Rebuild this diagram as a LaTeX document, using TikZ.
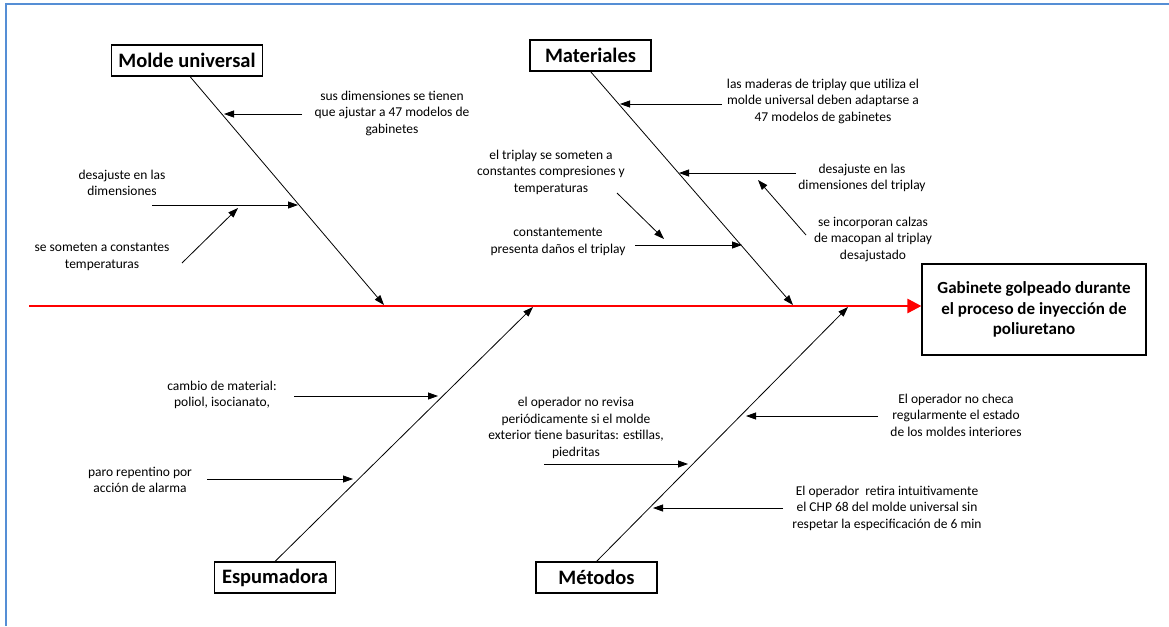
\documentclass[tikz,border=0pt]{standalone}
\usepackage{fontspec}
\setmainfont{Carlito}
\usepackage{xcolor}
\usepackage{tikz}
\usetikzlibrary{arrows.meta,positioning}
\definecolor{frameblue}{RGB}{85,142,213}
\tikzset{
  catbox/.style    = {draw, line width=1.1pt, font=\fontsize{20.5}{24}\selectfont\bfseries,
                      minimum width=121pt, minimum height=31pt, inner xsep=7pt},
  effbox/.style    = {draw, line width=1.1pt, font=\fontsize{17}{20.5}\selectfont\bfseries,
                      align=center, minimum width=224pt, minimum height=91pt},
  causetext/.style = {font=\fontsize{13.5}{16.5}\selectfont, align=center, inner sep=0pt},
  bone/.style      = {-{Triangle[length=10pt,width=7pt]}, line width=0.8pt},
  twig/.style      = {-{Triangle[length=10pt,width=7pt]}, line width=0.8pt},
  spine/.style     = {-{Triangle[length=14pt,width=14pt]}, line width=2.6pt, red},
  frameline/.style = {line width=2.4pt, frameblue},
}

\begin{document}
\begin{tikzpicture}[x=1pt,y=-1pt]
\useasboundingbox (0,0) rectangle (1169,626);
\draw[frameline] (1169,4) -| (6,626);

\node[catbox] (molde)  at (187,60.5)   {Molde universal};
\node[catbox] (mater)  at (590.5,55.5) {Materiales};
\node[catbox] (espum)  at (275,577.5)  {Espumadora};
\node[catbox] (metod)  at (596.5,577.5) {Métodos};
\node[effbox] (efecto) at (1034,309.5) {Gabinete golpeado durante\\el proceso de inyección de\\poliuretano};

\coordinate (tail) at (29,306);
\draw[spine] (tail) -- (tail -| efecto.west);

\coordinate (mhead) at (384,305);
\coordinate (thead) at (793,305);
\coordinate (ehead) at (533,307);
\coordinate (dhead) at (848,307);
\draw[bone] ([xshift=3pt]molde.south) -- (mhead);
\draw[bone] (mater.south) -- (thead);
\draw[bone] (espum.north) -- (ehead);
\draw[bone] (metod.north) -- (dhead);

\node[causetext] (mu1) at (392,113) {sus dimensiones se tienen\\que ajustar a 47 modelos de\\gabinetes};
\node[causetext] (mu2) at (122,183) {desajuste en las\\dimensiones};
\node[causetext] (mu3) at (102,257) {se someten a constantes\\temperaturas};
\coordinate (mu1a) at (302,114); \coordinate (mu1b) at (224,114);
\coordinate (mu2a) at (152,205); \coordinate (mu2b) at (298,205);
\coordinate (mu3a) at (182,263); \coordinate (mu3b) at (238,208);
\draw[twig] (mu1a) -- (mu1b);
\draw[twig] (mu2a) -- (mu2b);
\draw[twig] (mu3a) -- (mu3b);

\node[causetext] (ma1) at (823,101) {las maderas de triplay que utiliza el\\molde universal deben adaptarse a\\47 modelos de gabinetes};
\node[causetext] (ma2) at (551,172) {el triplay se someten a\\constantes compresiones y\\temperaturas};
\node[causetext] (ma3) at (558,242) {constantemente\\presenta daños el triplay};
\node[causetext] (ma4) at (862,178) {desajuste en las\\dimensiones del triplay};
\node[causetext] (ma5) at (873,239) {se incorporan calzas\\de macopan al triplay\\desajustado};
\coordinate (ma1a) at (722,104); \coordinate (ma1b) at (620,104);
\coordinate (ma2a) at (617,193); \coordinate (ma2b) at (664,239);
\coordinate (ma3a) at (635,245); \coordinate (ma3b) at (742,245);
\coordinate (ma4a) at (796,173); \coordinate (ma4b) at (679,173);
\coordinate (ma5a) at (806,235); \coordinate (ma5b) at (758,180);
\draw[twig] (ma1a) -- (ma1b);
\draw[twig] (ma2a) -- (ma2b);
\draw[twig] (ma3a) -- (ma3b);
\draw[twig] (ma4a) -- (ma4b);
\draw[twig] (ma5a) -- (ma5b);

\node[causetext] (es1) at (222,395) {cambio de material:\\poliol, isocianato,};
\node[causetext] (es2) at (140,480) {paro repentino por\\acción de alarma};
\coordinate (es1a) at (294,396); \coordinate (es1b) at (438,396);
\coordinate (es2a) at (207,479); \coordinate (es2b) at (353,479);
\draw[twig] (es1a) -- (es1b);
\draw[twig] (es2a) -- (es2b);

\node[causetext] (me1) at (576,428) {el operador no revisa\\periódicamente si el molde\\exterior tiene basuritas: estillas,\\piedritas};
\node[causetext] (me2) at (956,415) {El operador no checa\\regularmente el estado\\de los moldes interiores};
\node[causetext] (me3) at (887,508) {El operador\ \ retira intuitivamente\\el CHP 68 del molde universal sin\\respetar la especificación de 6 min};
\coordinate (me1a) at (544,464); \coordinate (me1b) at (688,464);
\coordinate (me2a) at (878,416); \coordinate (me2b) at (746,416);
\coordinate (me3a) at (783,508); \coordinate (me3b) at (653,508);
\draw[twig] (me1a) -- (me1b);
\draw[twig] (me2a) -- (me2b);
\draw[twig] (me3a) -- (me3b);
\end{tikzpicture}
\end{document}
